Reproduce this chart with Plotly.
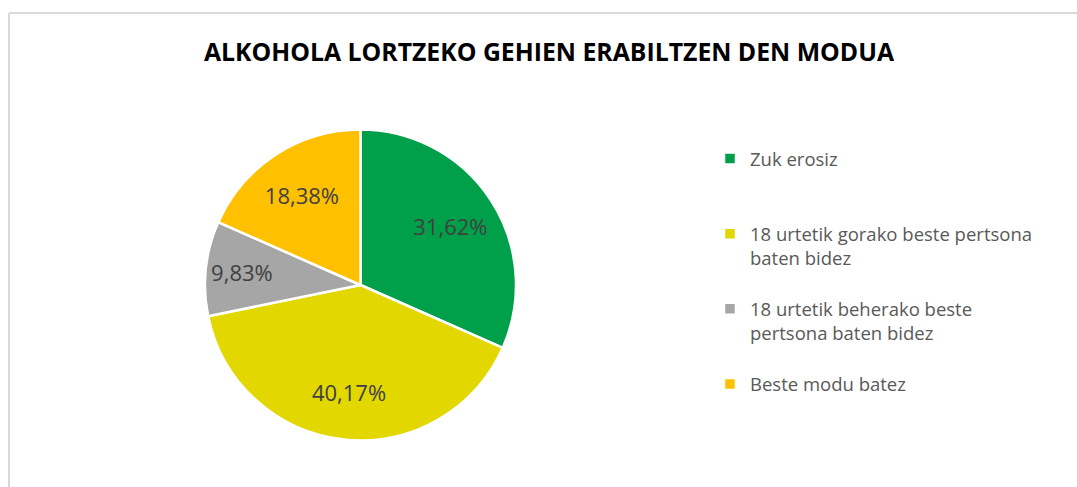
import plotly.graph_objects as go

title = "ALKOHOLA LORTZEKO GEHIEN ERABILTZEN DEN MODUA"
labels = [
    "Zuk erosiz<br> <br> ",
    "18 urtetik gorako beste pertsona<br>baten bidez<br> ",
    "18 urtetik beherako beste<br>pertsona baten bidez<br> ",
    "Beste modu batez",
]
values = [31.62, 40.17, 9.83, 18.38]
colors = ["#00A04A", "#E2D800", "#A6A6A6", "#FFC000"]

text_labels = [f"{v:.2f}".replace(".", ",") + "%" for v in values]

W, H = 1077, 487
cx, cy, r = 360.5, 285, 155.5
domain = dict(x=[(cx - r) / W, (cx + r) / W], y=[1 - (cy + r) / H, 1 - (cy - r) / H])

fig = go.Figure()
# coloured slices
fig.add_trace(go.Pie(
    labels=labels,
    values=values,
    textinfo="none",
    marker=dict(colors=colors, line=dict(color="white", width=2.5)),
    sort=False,
    direction="clockwise",
    rotation=0,
    domain=domain,
    showlegend=True,
    hoverinfo="label+percent",
))
# data labels placed in the outer ring of the same pie
fig.add_trace(go.Pie(
    labels=labels,
    values=values,
    text=text_labels,
    textinfo="text",
    textposition="inside",
    insidetextorientation="horizontal",
    textfont=dict(family="Open Sans", size=22, color="#404040"),
    marker=dict(colors=["rgba(0,0,0,0)"] * len(values), line=dict(width=0)),
    hole=0.38,
    sort=False,
    direction="clockwise",
    rotation=0,
    domain=domain,
    showlegend=False,
    hoverinfo="skip",
))

fig.update_layout(
    width=W, height=H,
    margin=dict(l=0, r=0, t=0, b=0),
    paper_bgcolor="white",
    title=dict(text="<b>" + title + "</b>", x=549 / W, xanchor="center", y=1 - 52 / H, yanchor="middle",
               font=dict(family="Open Sans", size=24.8, color="#000000")),
    legend=dict(
        x=710 / W, xanchor="left", y=1 - 140 / H, yanchor="top",
        font=dict(family="Open Sans", size=18.5, color="#595959"),
        valign="top", itemwidth=30, traceorder="normal",
        bgcolor="rgba(0,0,0,0)",
    ),
    shapes=[
        dict(type="line", xref="paper", yref="paper", x0=9 / W, x1=9 / W, y0=0, y1=1 - 13 / H,
             line=dict(color="#D9D9D9", width=2)),
        dict(type="line", xref="paper", yref="paper", x0=9 / W, x1=1, y0=1 - 13 / H, y1=1 - 13 / H,
             line=dict(color="#D9D9D9", width=2)),
    ],
)

fig.write_html("out.html", config={"displayModeBar": False},
               post_script="document.body.style.margin='0';")
